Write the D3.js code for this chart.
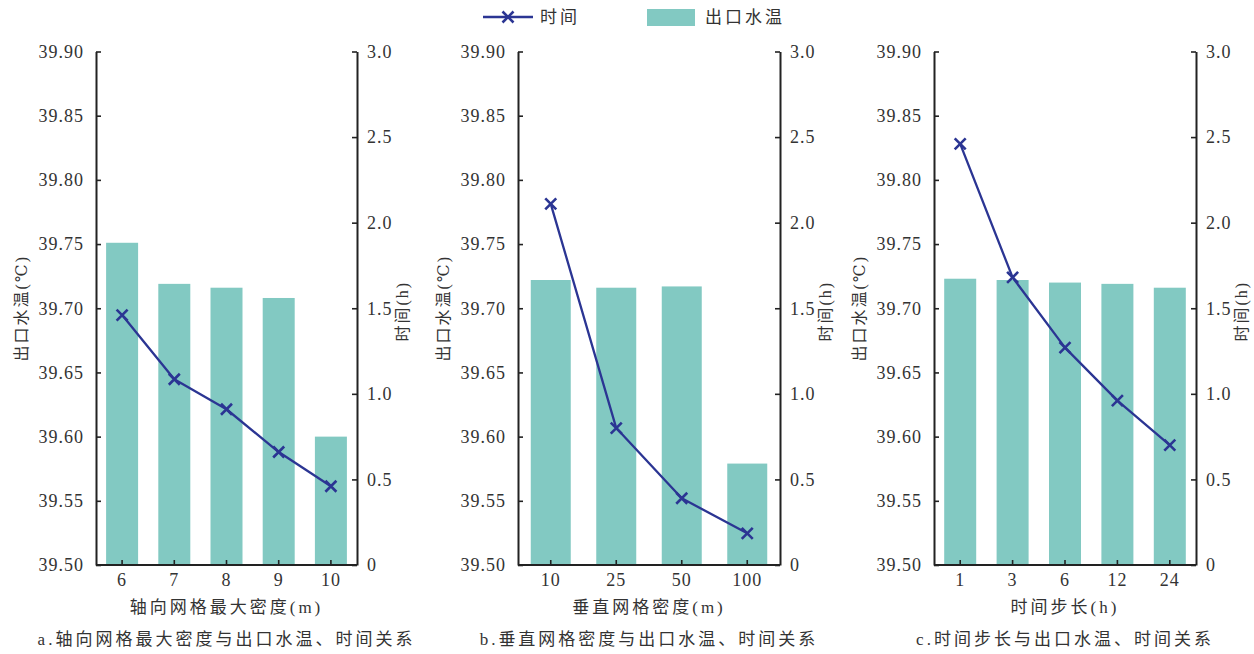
<!DOCTYPE html>
<html>
<head>
<meta charset="utf-8">
<script src="https://cdn.jsdelivr.net/npm/d3@7"></script>
<style>
html,body{margin:0;padding:0;background:#fff;}
</style>
</head>
<body>
<svg id="chart" width="1254" height="654"></svg>
<script>
// ---- data ----
const catsA = ["6","7","8","9","10"];
const tempA = [39.751, 39.719, 39.716, 39.708, 39.600];
const timeA = [1.46, 1.085, 0.91, 0.66, 0.46];

const catsB = ["10","25","50","100"];
const tempB = [39.722, 39.716, 39.717, 39.579];
const timeB = [2.11, 0.80, 0.39, 0.185];

const catsC = ["1","3","6","12","24"];
const tempC = [39.723, 39.722, 39.720, 39.719, 39.716];
const timeC = [2.46, 1.68, 1.27, 0.96, 0.70];

const leftTicks = [39.50, 39.55, 39.60, 39.65, 39.70, 39.75, 39.80, 39.85, 39.90];
const rightTicks = [0, 0.5, 1.0, 1.5, 2.0, 2.5, 3.0];

const xTitles = ["轴向网格最大密度(m)", "垂直网格密度(m)", "时间步长(h)"];
const subTitles = ["a.轴向网格最大密度与出口水温、时间关系", "b.垂直网格密度与出口水温、时间关系", "c.时间步长与出口水温、时间关系"];
const leftTitle = "出口水温(℃)";
const rightTitle = "时间(h)";
const legendLine = "时间";
const legendBar = "出口水温";

// ---- styling ----
const barColor = "#82c9c2";
const lineColor = "#2b3593";
const axisColor = "#222";
const textColor = "#333";
const FONT = "'Liberation Serif', 'Times New Roman', 'DejaVu Serif', 'Noto Sans CJK SC', serif";

const svg = d3.select("#chart");
const yTop = 51.5, yBottom = 565;

const panels = [
  {x0: 96, x1: 357, cats: catsA, temp: tempA, time: timeA, bw: 32},
  {x0: 518, x1: 780, cats: catsB, temp: tempB, time: timeB, bw: 40},
  {x0: 934, x1: 1196, cats: catsC, temp: tempC, time: timeC, bw: 32}
];

const yL = d3.scaleLinear().domain([39.5, 39.9]).range([yBottom, yTop]);
const yR = d3.scaleLinear().domain([0, 3]).range([yBottom, yTop]);

function styleText(sel, size, ls) {
  sel.style("font-family", FONT).style("font-size", size + "px")
     .style("letter-spacing", ls + "px").style("fill", textColor);
  return sel;
}

function marker(g, x, y, s) {
  g.append("path")
    .attr("d", `M${x-s},${y-s}L${x+s},${y+s}M${x-s},${y+s}L${x+s},${y-s}`)
    .attr("stroke", lineColor).attr("stroke-width", 2.6).attr("fill", "none");
}

panels.forEach((p, i) => {
  const g = svg.append("g");
  const x = d3.scaleBand().domain(p.cats).range([p.x0, p.x1]).paddingInner(0).paddingOuter(0);
  const step = x.step();
  const cx = c => x(c) + step / 2;

  // bars
  g.selectAll("rect.bar").data(p.cats).join("rect")
    .attr("x", c => cx(c) - p.bw / 2)
    .attr("y", (c, k) => yL(p.temp[k]))
    .attr("width", p.bw)
    .attr("height", (c, k) => yBottom - yL(p.temp[k]))
    .attr("fill", barColor);

  // line
  const pts = p.cats.map((c, k) => [cx(c), yR(p.time[k])]);
  g.append("path")
    .attr("d", d3.line()(pts))
    .attr("fill", "none").attr("stroke", lineColor).attr("stroke-width", 2.3)
    .attr("stroke-linejoin", "round");
  pts.forEach(q => marker(g, q[0], q[1], 5.5));

  // left axis
  const axL = d3.axisLeft(yL).tickValues(leftTicks).tickFormat(d3.format(".2f")).tickSizeInner(-5).tickSizeOuter(0).tickPadding(12);
  const gL = g.append("g").attr("transform", `translate(${p.x0},0)`).call(axL);
  // right axis
  const axR = d3.axisRight(yR).tickValues(rightTicks).tickFormat(d => d === 0 ? "0" : d3.format(".1f")(d)).tickSizeInner(-5).tickSizeOuter(0).tickPadding(10);
  const gR = g.append("g").attr("transform", `translate(${p.x1},0)`).call(axR);
  // bottom axis
  const axB = d3.axisBottom(x).tickSizeInner(-5).tickSizeOuter(0).tickPadding(10);
  const gB = g.append("g").attr("transform", `translate(0,${yBottom})`).call(axB);

  [gL, gR, gB].forEach(a => {
    a.select(".domain").attr("stroke", axisColor).attr("stroke-width", 2);
    a.selectAll(".tick line").attr("stroke", axisColor).attr("stroke-width", 1.6);
    styleText(a.selectAll(".tick text"), 18, 1);
  });
  gB.selectAll(".tick text").attr("dy", "0.71em").attr("y", 8);
  gB.select(".domain").attr("d", `M${p.x0},0H${p.x1}`);

  // axis titles
  const mid = (yTop + yBottom) / 2;
  styleText(g.append("text")
    .attr("transform", `translate(${p.x0 - 75},${mid}) rotate(-90)`)
    .attr("text-anchor", "middle").attr("dominant-baseline", "central"), 16, 2).text(leftTitle);
  styleText(g.append("text")
    .attr("transform", `translate(${p.x1 + 45},${mid + 3}) rotate(-90)`)
    .attr("text-anchor", "middle").attr("dominant-baseline", "central"), 16, 2).text(rightTitle);

  const pc = (p.x0 + p.x1) / 2;
  styleText(g.append("text").attr("x", pc).attr("y", 607)
    .attr("text-anchor", "middle").attr("dominant-baseline", "central"), 17, 3).text(xTitles[i]);
  styleText(g.append("text").attr("x", pc).attr("y", 639)
    .attr("text-anchor", "middle").attr("dominant-baseline", "central"), 17, 3).text(subTitles[i]);
});

// legend
const lg = svg.append("g");
lg.append("line").attr("x1", 483).attr("x2", 533).attr("y1", 17).attr("y2", 17)
  .attr("stroke", lineColor).attr("stroke-width", 2.4);
marker(lg, 508, 17, 5.5);
styleText(lg.append("text").attr("x", 540).attr("y", 17).attr("dominant-baseline", "central"), 17, 3).text(legendLine);
lg.append("rect").attr("x", 647).attr("y", 9).attr("width", 48).attr("height", 17).attr("fill", barColor);
styleText(lg.append("text").attr("x", 705).attr("y", 17).attr("dominant-baseline", "central"), 17, 3).text(legendBar);
</script>
</body>
</html>
